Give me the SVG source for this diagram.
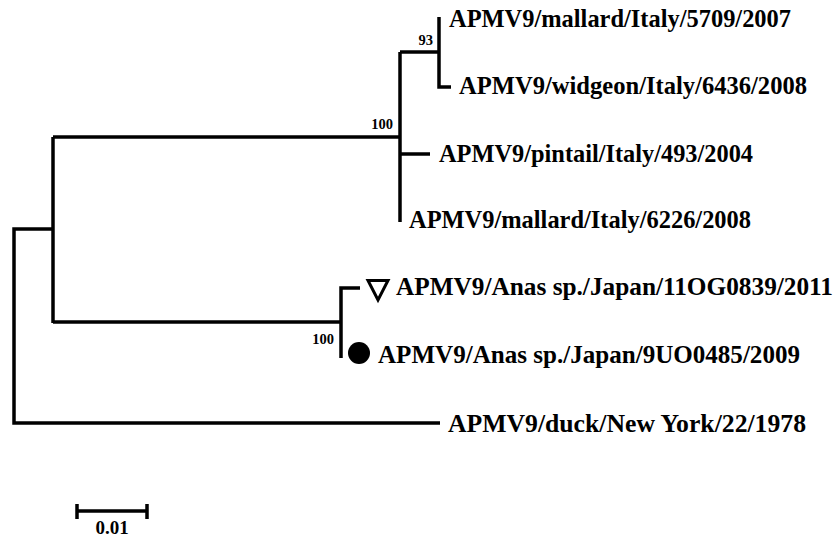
<svg xmlns="http://www.w3.org/2000/svg" width="837" height="537" viewBox="0 0 837 537">
<style>
.br{fill:none;stroke:#000;stroke-width:3.5;stroke-linecap:butt;stroke-linejoin:miter}
.lb{font-family:"Liberation Serif","Times New Roman",serif;font-weight:bold;font-size:24.4px;fill:#000}
.bs{font-family:"Liberation Serif","Times New Roman",serif;font-weight:bold;font-size:14.5px;fill:#000}
</style>
<rect width="837" height="537" fill="#fff"/>
<g id="connectors">
<path class="br" d="M53,229 H14 V423 H440"/>
<path class="br" d="M53,137 V323"/>
<path class="br" d="M53,137 H400"/>
<path class="br" d="M400,52 V222"/>
<path class="br" d="M400,154 H430"/>
<path class="br" d="M400,52 H439"/>
<path class="br" d="M439,17 V87 H451"/>
<path class="br" d="M53,322 H341"/>
<path class="br" d="M341,358 V288 H360"/>
</g>
<g id="bootstrap">
<text class="bs" x="393" y="129" text-anchor="end">100</text>
<text class="bs" x="433" y="45" text-anchor="end">93</text>
<text class="bs" x="334" y="344" text-anchor="end">100</text>
</g>
<g id="leaf-mallard-5709"><text class="lb" x="449" y="27" textLength="342" lengthAdjust="spacingAndGlyphs">APMV9/mallard/Italy/5709/2007</text></g>
<g id="leaf-widgeon-6436"><text class="lb" x="459" y="94" textLength="348" lengthAdjust="spacingAndGlyphs">APMV9/widgeon/Italy/6436/2008</text></g>
<g id="leaf-pintail-493"><text class="lb" x="439" y="162" textLength="314" lengthAdjust="spacingAndGlyphs">APMV9/pintail/Italy/493/2004</text></g>
<g id="leaf-mallard-6226"><text class="lb" x="409" y="228" textLength="342" lengthAdjust="spacingAndGlyphs">APMV9/mallard/Italy/6226/2008</text></g>
<g id="leaf-japan-11OG0839">
<polygon points="368,280.5 388,280.5 378,300" fill="none" stroke="#000" stroke-width="3"/>
<text class="lb" x="396" y="295" textLength="437" lengthAdjust="spacingAndGlyphs">APMV9/Anas sp./Japan/11OG0839/2011</text>
</g>
<g id="leaf-japan-9UO0485">
<circle cx="359" cy="353" r="11" fill="#000"/>
<text class="lb" x="378" y="363" textLength="422" lengthAdjust="spacingAndGlyphs">APMV9/Anas sp./Japan/9UO0485/2009</text>
</g>
<g id="leaf-newyork"><text class="lb" x="448" y="432" textLength="358" lengthAdjust="spacingAndGlyphs">APMV9/duck/New York/22/1978</text></g>
<g id="scale">
<path class="br" d="M77,511 H147 M77,504 V519 M147,504 V519"/>
<text x="112" y="534" text-anchor="middle" style="font-family:'Liberation Serif','Times New Roman',serif;font-weight:bold;font-size:19px">0.01</text>
</g>
</svg>
